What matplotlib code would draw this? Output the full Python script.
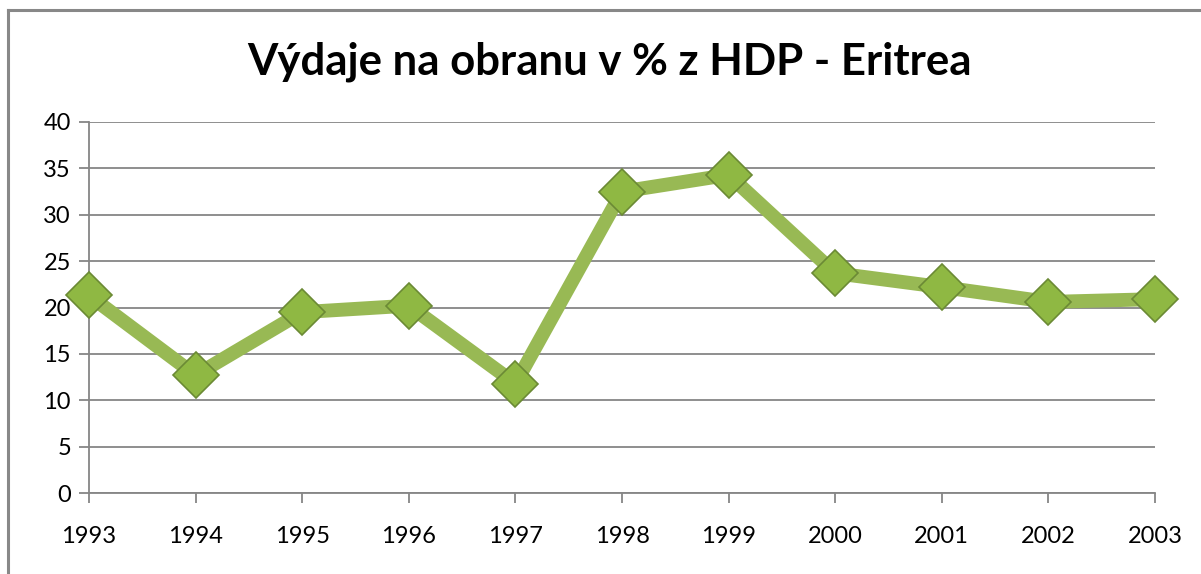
import matplotlib
matplotlib.use("Agg")
from matplotlib import pyplot as plt
from matplotlib.lines import Line2D

years = ['1993', '1994', '1995', '1996', '1997', '1998', '1999', '2000', '2001', '2002', '2003']
spending = [21.3, 12.7, 19.5, 20.2, 11.8, 32.5, 34.3, 23.7, 22.2, 20.6, 20.9]
yticks = [0, 5, 10, 15, 20, 25, 30, 35, 40]

plt.rcParams['font.family'] = ['Lato', 'DejaVu Sans']

fig = plt.figure(figsize=(12.01, 5.74), dpi=100)
ax = fig.add_axes([89 / 1201, 1 - 493 / 574, (1155 - 89) / 1201, (493 - 122) / 574])

grid_c = '#868686'
x = list(range(len(years)))
ax.plot(x, spending, color='#98B954', lw=10, solid_joinstyle='miter', zorder=3, clip_on=False)
ax.plot(x, spending, ls='none', marker='D', ms=23, mfc='#8FB843', mec='#6B8A35', mew=1.2,
        zorder=4, clip_on=False)

ax.set_xlim(0, 10)
ax.set_ylim(0, 40)
ax.set_xticks(x)
ax.set_xticklabels(years)
ax.set_yticks(yticks)
ax.yaxis.grid(True, color=grid_c, lw=1.3)
ax.set_axisbelow(True)
for s in ['top', 'right']:
    ax.spines[s].set_visible(False)
for s in ['left', 'bottom']:
    ax.spines[s].set_color(grid_c)
    ax.spines[s].set_linewidth(1.3)
ax.tick_params(axis='both', direction='out', length=7, width=1.3, color=grid_c, labelsize=17)
ax.tick_params(axis='x', pad=17)
ax.tick_params(axis='y', pad=6)

fig.text(609 / 1201, 1 - 62 / 574, 'Výdaje na obranu v % z HDP - Eritrea', ha='center', va='center',
         fontsize=31.5, fontweight='bold')

# chart frame
fig.add_artist(Line2D([7.5 / 1201, 1], [1 - 10 / 574, 1 - 10 / 574], color='#888888', lw=2.2))
fig.add_artist(Line2D([7.5 / 1201, 7.5 / 1201], [0, 1 - 10 / 574], color='#888888', lw=2.2))

fig.savefig('out.png', dpi=100)
